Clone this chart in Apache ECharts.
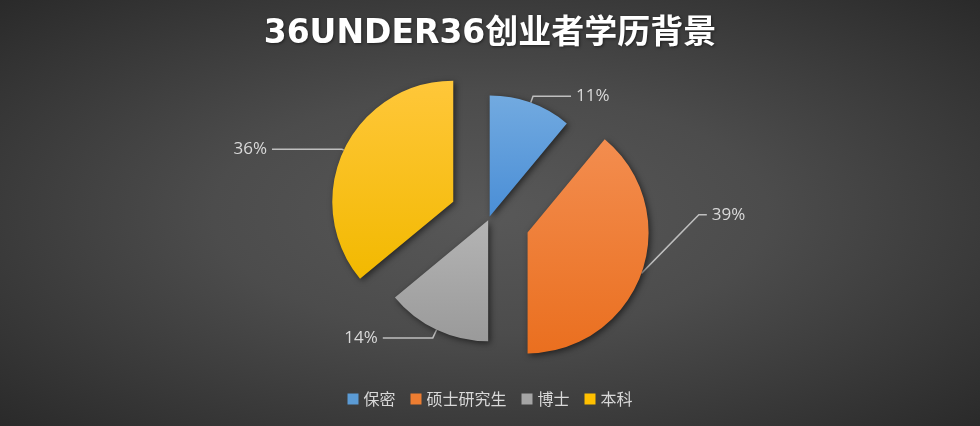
<!DOCTYPE html>
<html>
<head>
<meta charset="utf-8">
<script src="https://cdn.jsdelivr.net/npm/echarts@6/dist/echarts.min.js"></script>
<style>
    html, body { margin: 0; padding: 0; }
    #main {
        width: 980px;
        height: 426px;
        background: radial-gradient(ellipse at 50% 50%, #585858 0%, #4c4c4c 40%, #2a2a2a 100%);
    }
</style>
</head>
<body>
<div id="main"></div>
<script>
// 学历分布数据
var eduNames = ['保密', '硕士研究生', '博士', '本科'];
var eduValues = [11, 39, 14, 36];

// 每块扇形的渐变色（上浅下深）
var colorTop = ['#72aae0', '#f38d4f', '#b4b4b4', '#ffc73a'];
var colorBottom = ['#4a8ed6', '#ea6f1f', '#9a9a9a', '#f2b900'];
var colorLegend = ['#5b9bd5', '#ed7d31', '#a5a5a5', '#ffc000'];

// 扇形分离距离、引导线长度
var explode = [2, 41, 2, 39.5];
var lineLen = [7, 10, 9, 2];
var lineLen2 = [38, 8, 50, 70];

var myChart = echarts.init(document.getElementById('main'), null, { renderer: 'canvas' });

function grad(i) {
    return new echarts.graphic.LinearGradient(0, 0, 0, 1, [
        { offset: 0, color: colorTop[i] },
        { offset: 1, color: colorBottom[i] }
    ]);
}

// 每个扇形单独一个系列，这样可以各自设置分离距离
var series = [];
eduNames.forEach(function (name, i) {
    series.push({
        name: name,
        type: 'pie',
        center: [489, 218.5],
        radius: 121,
        startAngle: 90,
        clockwise: true,
        selectedMode: 'multiple',
        selectedOffset: explode[i],
        avoidLabelOverlap: false,
        silent: true,
        emphasis: { disabled: true },
        label: {
            color: '#d9d9d9',
            fontSize: 17,
            fontFamily: 'Open Sans, Noto Sans CJK SC',
            formatter: '{c}%'
        },
        labelLine: {
            length: lineLen[i],
            length2: lineLen2[i],
            lineStyle: { color: '#bfbfbf', width: 1.5 }
        },
        labelLayout: i === 1 ? function (p) {
            // 硕士研究生的标签挪到右上方
            if (p.dataIndex !== 1 || !p.labelLinePoints) return {};
            var pts = p.labelLinePoints;
            var r = p.labelRect;
            var dx = 48, dy = -62;
            var nx = r.x + dx;
            var ny = r.y + r.height / 2 + dy;
            return {
                dx: dx,
                dy: dy,
                labelLinePoints: [pts[0], [nx - 13, ny], [nx - 5, ny]]
            };
        } : null,
        data: eduNames.map(function (n, j) {
            var on = j === i;
            return {
                name: n,
                value: eduValues[j],
                selected: on,
                itemStyle: on ? {
                    color: grad(j),
                    shadowBlur: 6,
                    shadowColor: 'rgba(0,0,0,0.55)',
                    shadowOffsetX: 2,
                    shadowOffsetY: 2
                } : { color: 'rgba(0,0,0,0)' },
                label: { show: on },
                labelLine: { show: on }
            };
        })
    });
});

var option = {
    backgroundColor: 'transparent',
    title: {
        text: '36UNDER36创业者学历背景',
        left: 'center',
        top: 13,
        textStyle: {
            color: '#ffffff',
            fontSize: 33,
            fontWeight: 'bold',
            fontFamily: 'DejaVu Sans, Noto Sans CJK SC',
            textShadowColor: 'rgba(0,0,0,0.5)',
            textShadowBlur: 3,
            textShadowOffsetX: 1,
            textShadowOffsetY: 1
        }
    },
    legend: {
        top: 386,
        left: 'center',
        itemWidth: 11,
        itemHeight: 11,
        itemGap: 15,
        icon: 'rect',
        textStyle: {
            color: '#d9d9d9',
            fontSize: 16,
            fontFamily: 'Noto Sans CJK SC'
        },
        data: eduNames.map(function (n, i) {
            return {
                name: n,
                itemStyle: { color: colorLegend[i], opacity: 1, shadowBlur: 0, borderWidth: 0 }
            };
        })
    },
    series: series
};

myChart.setOption(option);
</script>
</body>
</html>
